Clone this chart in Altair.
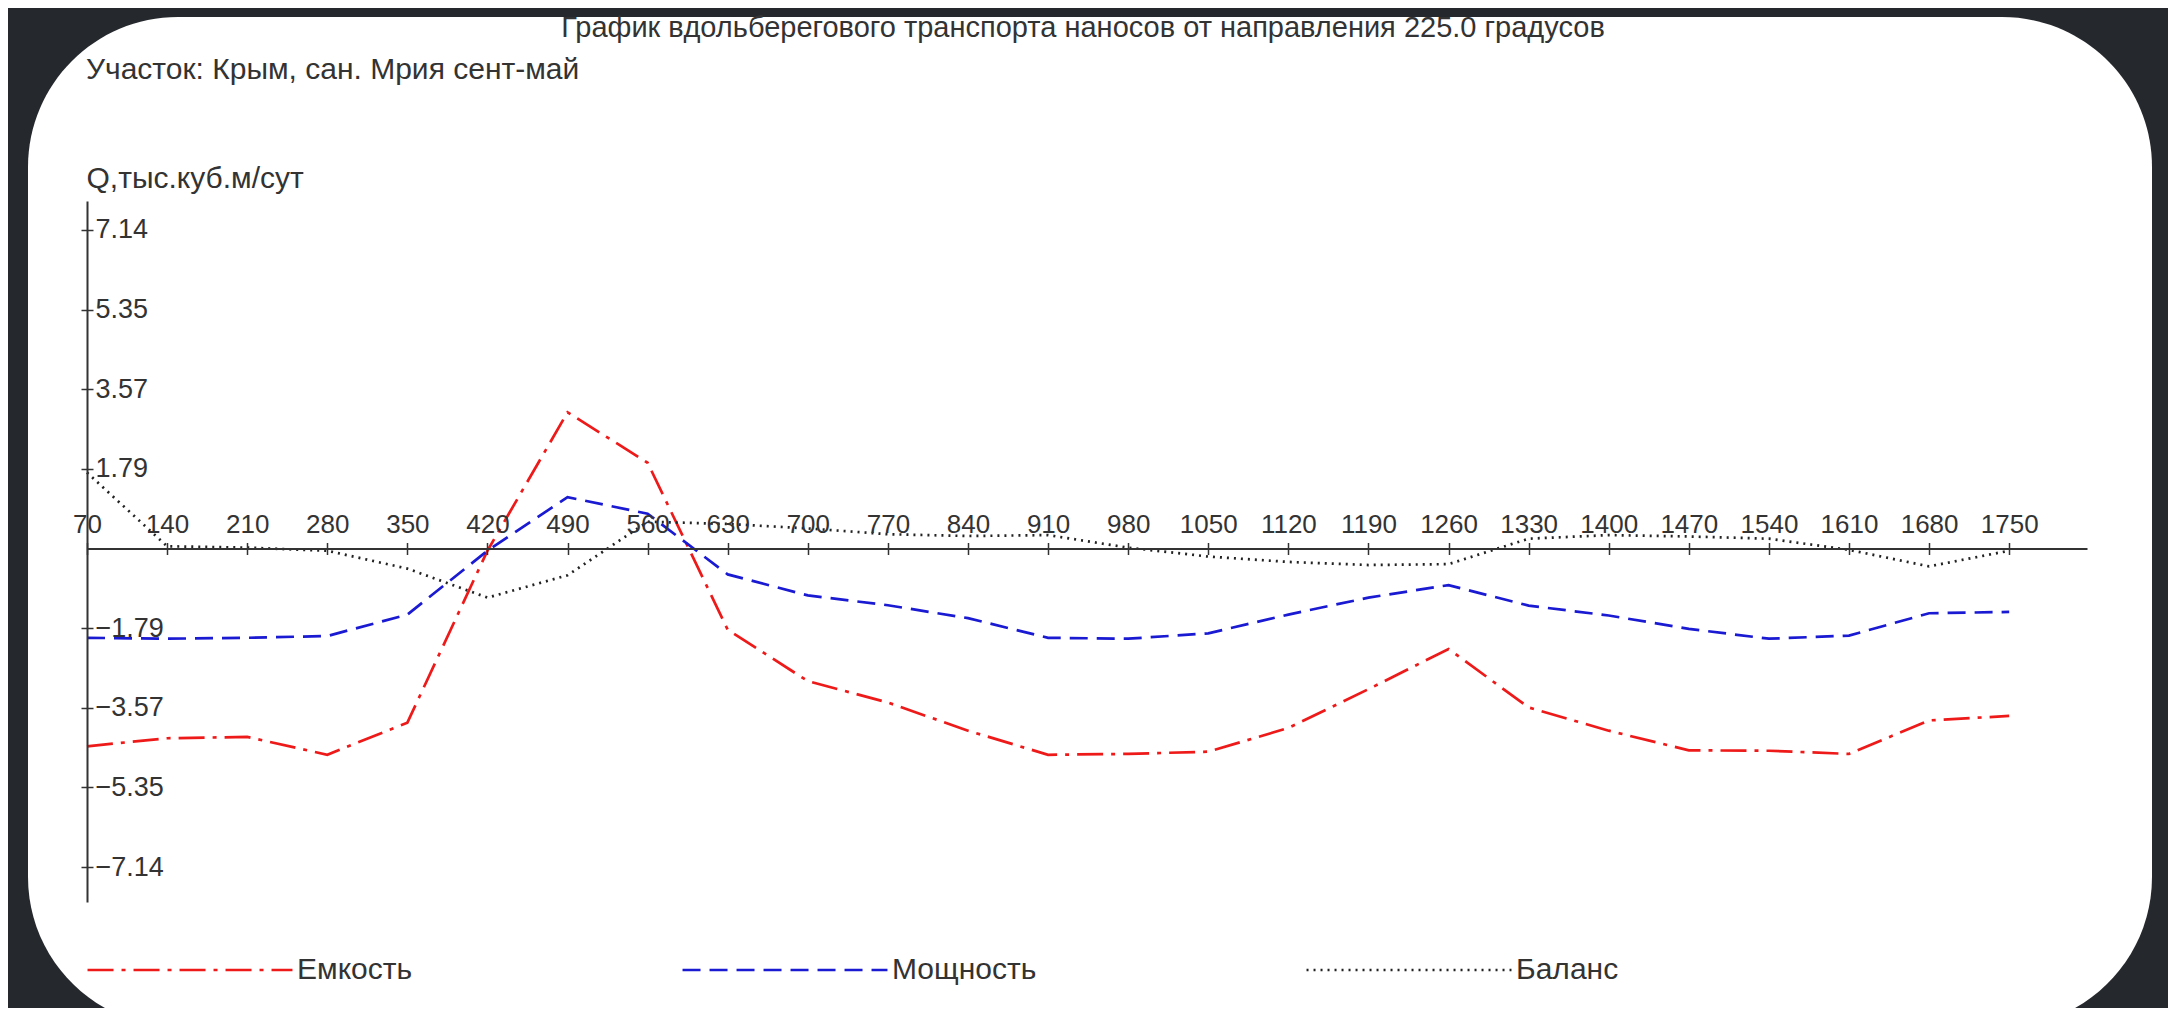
import altair as alt
import pandas as pd

# ---------------- data ----------------
x_vals = [70, 140, 210, 280, 350, 420, 490, 560, 630, 700, 770, 840, 910,
          980, 1050, 1120, 1190, 1260, 1330, 1400, 1470, 1540, 1610, 1680, 1750]
emkost = [-4.43, -4.25, -4.22, -4.62, -3.90, -0.05, 3.05, 1.92, -1.82, -2.97,
          -3.45, -4.08, -4.62, -4.60, -4.55, -4.02, -3.15, -2.25, -3.56, -4.08,
          -4.52, -4.53, -4.60, -3.85, -3.75]
moshnost = [-2.00, -2.02, -2.00, -1.96, -1.48, -0.05, 1.15, 0.78, -0.58, -1.05,
            -1.27, -1.56, -2.00, -2.02, -1.90, -1.48, -1.10, -0.82, -1.28, -1.50,
            -1.80, -2.02, -1.95, -1.45, -1.42]
balans = [1.70, 0.05, 0.02, -0.05, -0.45, -1.10, -0.60, 0.60, 0.55, 0.45,
          0.32, 0.28, 0.30, 0.02, -0.18, -0.30, -0.37, -0.35, 0.22, 0.30,
          0.27, 0.22, -0.03, -0.40, -0.05]
series_names = ["Емкость", "Мощность", "Баланс"]
y_tick_values = [7.14, 5.35, 3.57, 1.79, -1.79, -3.57, -5.35, -7.14]

title_text = "График вдольберегового транспорта наносов от направления 225.0 градусов"
subtitle_text = "Участок: Крым, сан. Мрия сент-май"
y_title = "Q,тыс.куб.м/сут"

rows = []
for name, vals in zip(series_names, [emkost, moshnost, balans]):
    for xv, yv in zip(x_vals, vals):
        rows.append({"x": xv, "q": yv, "series": name})
df = pd.DataFrame(rows)

# ---------------- styling ----------------
FONT = "Liberation Sans"
TXT = "#333333"
W, H = 2000, 701
ZERO = 347.5  # pixel distance of q=0 from plot top
xscale = alt.Scale(domain=[70, 1818], nice=False, zero=False)
yscale = alt.Scale(domain=[-7.917, 7.783], nice=False, zero=False)
colors = ["#ee1a1a", "#1a1ad2", "#222222"]
dashes = [[26, 8, 4, 8], [18, 9], [2, 5]]

legend = alt.Legend(
    orient="none", legendX=-1, legendY=665, direction="horizontal",
    title=None, symbolType="stroke", symbolSize=42000, symbolStrokeWidth=2.6,
    labelFont=FONT, labelFontSize=30, labelColor=TXT, labelOffset=3,
    columnPadding=264,
)

bg = alt.Chart(pd.DataFrame({"k": [0]})).mark_rect(
    color="white", cornerRadius=150
).encode(
    x=alt.value(-59), x2=alt.value(2065), y=alt.value(-184), y2=alt.value(826)
)

ticks_layer = alt.Chart(df).mark_point(opacity=0).encode(
    x=alt.X("x:Q", scale=xscale, axis=alt.Axis(
        orient="bottom", offset=-(H - ZERO), values=x_vals, labels=False,
        domain=False, ticks=True, tickSize=6, tickColor=TXT, tickWidth=1.5,
        grid=False, title=None, zindex=2)),
    y=alt.Y("q:Q", scale=yscale, axis=alt.Axis(
        orient="left", values=y_tick_values, labels=False, domain=True,
        domainColor=TXT, domainWidth=2, ticks=True, tickSize=6, tickColor=TXT,
        tickWidth=1.5, grid=False, title=y_title, titleAngle=0,
        titleAlign="left", titleBaseline="middle", titleX=-1, titleY=-23,
        titleFont=FONT, titleFontSize=30, titleFontWeight="normal",
        titleColor=TXT, zindex=2)),
)

lines = alt.Chart(df).mark_line(strokeWidth=2.7, clip=False).encode(
    x=alt.X("x:Q", scale=xscale, axis=alt.Axis(
        orient="top", offset=-ZERO, values=x_vals, format="d",
        domain=True, domainColor=TXT, domainWidth=2, ticks=True, tickSize=6,
        tickColor=TXT, tickWidth=1.5, labelPadding=5, labelFont=FONT,
        labelFontSize=26, labelColor=TXT, labelFlush=False,
        labelOverlap=False, grid=False, title=None, zindex=2)),
    y=alt.Y("q:Q", scale=yscale, axis=alt.Axis(
        orient="right", offset=-W, values=y_tick_values, format=".2f",
        domain=False, ticks=True, tickSize=6, tickColor=TXT, tickWidth=1.5,
        labelAlign="left", labelPadding=2, labelFont=FONT, labelFontSize=27,
        labelColor=TXT, labelFlush=False, labelOverlap=False, grid=False,
        title=None, zindex=2)),
    color=alt.Color("series:N", scale=alt.Scale(domain=series_names, range=colors),
                    legend=legend),
    strokeDash=alt.StrokeDash("series:N",
                              scale=alt.Scale(domain=series_names, range=dashes),
                              legend=legend),
    order=alt.Order("x:Q"),
)

texts = pd.DataFrame({"t": [title_text, subtitle_text],
                      "kind": ["title", "subtitle"]})

title = alt.Chart(texts).transform_filter(alt.datum.kind == "title").mark_text(
    align="center", baseline="middle", font=FONT, fontSize=29, color=TXT
).encode(x=alt.value(996), y=alt.value(-173), text="t:N")

subtitle = alt.Chart(texts).transform_filter(alt.datum.kind == "subtitle").mark_text(
    align="left", baseline="middle", font=FONT, fontSize=30, color=TXT
).encode(x=alt.value(-1), y=alt.value(-131), text="t:N")

chart = alt.layer(bg, ticks_layer, lines, title, subtitle).resolve_axis(
    x="independent", y="independent"
).properties(
    width=W, height=H,
    padding={"left": 79, "top": 193, "right": 81, "bottom": 106},
    autosize=alt.AutoSizeParams(type="none"),
).configure(background="#25282c").configure_view(stroke=None)

chart.save("out.html", embed_options={"renderer": "svg", "actions": False})
